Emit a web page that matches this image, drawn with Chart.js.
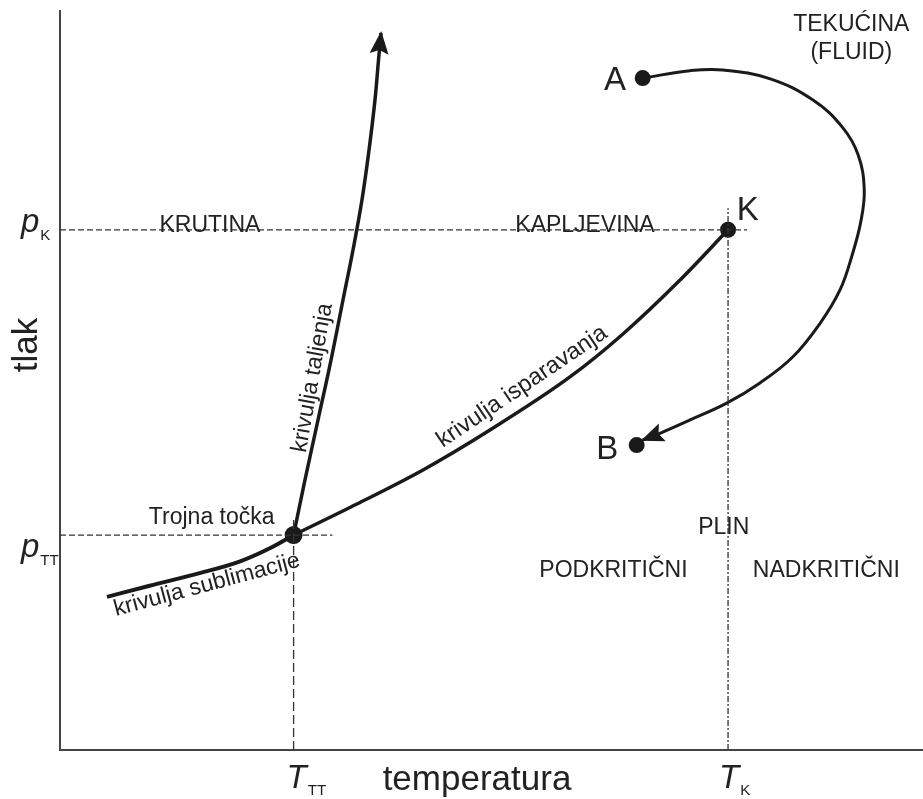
<!DOCTYPE html>
<html>
<head>
<meta charset="utf-8">
<script src="https://cdn.jsdelivr.net/npm/chart.js@4.4.0/dist/chart.umd.min.js"></script>
<style>
  html, body { margin: 0; padding: 0; background: #fff; }
  #wrap { width: 923px; height: 799px; position: relative; }
</style>
</head>
<body>
<div id="wrap"><canvas id="chart"></canvas></div>
<script>
// Fazni dijagram: temperatura (x) i tlak (y), relativne jedinice 0..100

// karakteristicne vrijednosti
const T_TT = 27.1, T_K = 77.5;
const p_TT = 29.05, p_K = 70.3;

// krivulja sublimacije
const sublimacijaT = [5.45, 10.4, 16.2, 20.9, 24.4, 27.1];
const sublimacijaP = [20.7, 22.2, 23.9, 25.5, 27.3, 29.05];

// krivulja taljenja
const taljenjeT = [27.1, 28.42, 29.93, 31.44, 32.83, 33.99, 35.03, 35.85, 36.54, 36.95, 37.24];
const taljenjeP = [29.05, 36.49, 44.59, 52.70, 60.81, 67.57, 74.32, 81.08, 87.84, 93.24, 96.89];

// krivulja isparavanja
const isparavanjeT = [27.1, 34.45, 42.11, 49.88, 59.16, 65.31, 71.93, 77.5];
const isparavanjeP = [29.05, 33.24, 37.84, 43.24, 50.41, 56.22, 63.51, 70.3];

// put A -> B oko kriticne tocke
const putT = [67.6, 73.1, 76.9, 82.4, 87.4, 90.8, 92.6, 93.3, 92.9, 91.9, 90.5, 88.2, 85.0, 81.2, 77.4, 73.1, 69.6, 67.6];
const putP = [90.8, 91.8, 91.9, 90.7, 87.8, 84.1, 80.4, 75.7, 71.4, 66.9, 62.2, 57.7, 53.1, 49.6, 46.9, 44.6, 42.8, 41.9];

// tocke: trojna, K, A, B
const tockeT = [T_TT, T_K, 67.6, 66.9];
const tockeP = [p_TT, p_K, 90.8, 41.2];

// dosezi isprekidanih linija
const pKdo = 79.7, pTTdo = 31.6, TKdo = 73.2, TTTdo = 31.4;

const zip = (xs, ys) => xs.map((x, i) => ({ x, y: ys[i] }));

const FONT = '"Liberation Sans", Arial, sans-serif';

const natpisi = [
    { t: 'KRUTINA', x: 17.4, y: 70.8, s: 23 },
    { t: 'KAPLJEVINA', x: 60.9, y: 70.8, s: 23 },
    { t: 'TEKUĆINA', x: 91.8, y: 98.0, s: 23 },
    { t: '(FLUID)', x: 91.8, y: 94.2, s: 23 },
    { t: 'A', x: 64.4, y: 90.4, s: 33 },
    { t: 'K', x: 79.8, y: 72.8, s: 33 },
    { t: 'B', x: 63.5, y: 40.5, s: 33 },
    { t: 'PLIN', x: 77.0, y: 30.0, s: 23 },
    { t: 'PODKRITIČNI', x: 64.2, y: 24.2, s: 23 },
    { t: 'NADKRITIČNI', x: 88.9, y: 24.2, s: 23 },
    { t: 'Trojna točka', x: 17.6, y: 31.4, s: 23 },
    { t: 'krivulja sublimacije', x: 17.05, y: 22.3, s: 23, r: -15 },
    { t: 'krivulja taljenja', x: 29.3, y: 50.3, s: 23, r: -80 },
    { t: 'krivulja isparavanja', x: 53.6, y: 49.1, s: 23.5, r: -34 }
];

function simbol(ctx, glavni, indeks, x, y, dy) {
    ctx.textAlign = 'left';
    ctx.textBaseline = 'alphabetic';
    ctx.font = 'italic 33px ' + FONT;
    ctx.fillText(glavni, x, y);
    const w = ctx.measureText(glavni).width;
    ctx.font = '15px ' + FONT;
    ctx.fillText(indeks, x + w + 1, y + dy);
}

const crtez = {
    id: 'crtez',
    beforeDatasetsDraw(chart) {
        const { ctx, chartArea: a } = chart;
        ctx.save();
        ctx.strokeStyle = '#444';
        ctx.lineWidth = 2;
        ctx.beginPath();
        ctx.moveTo(a.left, a.top);
        ctx.lineTo(a.left, a.bottom);
        ctx.lineTo(chart.width, a.bottom);
        ctx.stroke();
        ctx.restore();
    },
    afterDatasetsDraw(chart) {
        const ctx = chart.ctx;
        chart.data.datasets.forEach((ds, i) => {
            if (!ds.strelica) return;
            const pts = chart.getDatasetMeta(i).data;
            const kraj = pts[pts.length - 1];
            let prije = pts[pts.length - 2];
            if (kraj.cp1x !== undefined && Math.hypot(kraj.x - kraj.cp1x, kraj.y - kraj.cp1y) > 1)
                prije = { x: kraj.cp1x, y: kraj.cp1y };
            const ang = Math.atan2(kraj.y - prije.y, kraj.x - prije.x);
            const L = 21, W = 9.5;
            ctx.save();
            ctx.translate(kraj.x, kraj.y);
            ctx.rotate(ang);
            ctx.fillStyle = '#1a1a1a';
            ctx.beginPath();
            ctx.moveTo(2, 0);
            ctx.lineTo(-L, -W);
            ctx.lineTo(-L + 4, 0);
            ctx.lineTo(-L, W);
            ctx.closePath();
            ctx.fill();
            ctx.restore();
        });
    },
    afterDraw(chart) {
        const { ctx } = chart;
        const xs = chart.scales.x, ys = chart.scales.y;
        ctx.save();
        ctx.fillStyle = '#222';
        natpisi.forEach(n => {
            ctx.save();
            ctx.translate(xs.getPixelForValue(n.x), ys.getPixelForValue(n.y));
            if (n.r) ctx.rotate(n.r * Math.PI / 180);
            ctx.font = n.s + 'px ' + FONT;
            ctx.textAlign = 'center';
            ctx.textBaseline = 'middle';
            ctx.fillText(n.t, 0, 0);
            ctx.restore();
        });

        // oznake osi
        const bottom = chart.chartArea.bottom;
        simbol(ctx, 'p', 'K', 21, ys.getPixelForValue(p_K) + 2, 8);
        simbol(ctx, 'p', 'TT', 21, ys.getPixelForValue(p_TT) + 22, 8);
        simbol(ctx, 'T', 'TT', xs.getPixelForValue(T_TT) - 7, bottom + 38, 7);
        simbol(ctx, 'T', 'K', xs.getPixelForValue(T_K) - 9, bottom + 38, 7);

        ctx.font = '35px ' + FONT;
        ctx.textAlign = 'center';
        ctx.textBaseline = 'alphabetic';
        ctx.fillText('temperatura', 477, bottom + 40);

        ctx.translate(27, 345);
        ctx.rotate(-Math.PI / 2);
        ctx.font = '35px ' + FONT;
        ctx.textBaseline = 'middle';
        ctx.fillText('tlak', 0, 0);
        ctx.restore();
    }
};

const crta = (data, extra) => Object.assign({
    data,
    showLine: true,
    pointRadius: 0,
    borderColor: '#1a1a1a',
    borderWidth: 3.5,
    tension: 0.4,
    fill: false
}, extra);

const isprekidana = (data, dash) => crta(data, {
    borderColor: '#333',
    borderWidth: 1.3,
    borderDash: dash,
    tension: 0
});

new Chart(document.getElementById('chart'), {
    type: 'scatter',
    data: {
        datasets: [
            isprekidana([{ x: 0, y: p_K }, { x: pKdo, y: p_K }], [6, 3]),
            isprekidana([{ x: 0, y: p_TT }, { x: pTTdo, y: p_TT }], [6, 3]),
            isprekidana([{ x: T_K, y: 0 }, { x: T_K, y: TKdo }], [6, 2, 2, 2]),
            isprekidana([{ x: T_TT, y: 0 }, { x: T_TT, y: TTTdo }], [9, 4]),
            crta(zip(sublimacijaT, sublimacijaP), { borderWidth: 4, cubicInterpolationMode: 'monotone' }),
            crta(zip(taljenjeT, taljenjeP), { strelica: true }),
            crta(zip(isparavanjeT, isparavanjeP), { cubicInterpolationMode: 'monotone' }),
            crta(zip(putT, putP), { borderWidth: 3, strelica: true }),
            {
                data: zip(tockeT, tockeP),
                showLine: false,
                pointRadius: [9, 8, 8, 8],
                pointBackgroundColor: '#1a1a1a',
                pointBorderWidth: 0
            }
        ]
    },
    options: {
        responsive: true,
        maintainAspectRatio: false,
        animation: false,
        layout: { autoPadding: false, padding: { left: 60, right: 1, top: 10, bottom: 49 } },
        plugins: { legend: { display: false }, tooltip: { enabled: false } },
        scales: {
            x: { type: 'linear', min: 0, max: 100, display: false },
            y: { type: 'linear', min: 0, max: 100, display: false }
        }
    },
    plugins: [crtez]
});
</script>
</body>
</html>
